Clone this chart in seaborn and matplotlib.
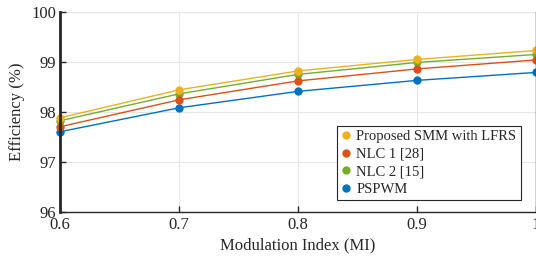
import pandas as pd
import matplotlib.pyplot as plt
import seaborn as sns
from matplotlib.lines import Line2D

mi = [0.6, 0.7, 0.8, 0.9, 1.0]
proposed = [97.88, 98.44, 98.82, 99.05, 99.23]
nlc1 = [97.70, 98.24, 98.62, 98.86, 99.04]
nlc2 = [97.82, 98.36, 98.75, 98.99, 99.15]
pspwm = [97.60, 98.08, 98.41, 98.63, 98.79]

names = ['Proposed SMM with LFRS', 'NLC 1 [28]', 'NLC 2 [15]', 'PSPWM']
colors = ['#EDB120', '#D95319', '#77AC30', '#0072BD']

df = pd.DataFrame({'MI': mi * 4,
                   'Eff': proposed + nlc1 + nlc2 + pspwm,
                   'Method': sum([[n] * len(mi) for n in names], [])})

sns.set_style('whitegrid')
plt.rcParams['font.family'] = ['Liberation Serif', 'DejaVu Serif']

fig = plt.figure(figsize=(5.36, 2.57), dpi=100)
ax = fig.add_axes([0.112, 0.177, 0.888, 0.776])

# draw in back-to-front order like the reference
for name, col in zip(names[::-1], colors[::-1]):
    sns.lineplot(data=df[df['Method'] == name], x='MI', y='Eff', color=col,
                 marker='o', markersize=6, markeredgewidth=0, linewidth=1,
                 ax=ax, legend=False, clip_on=False)

ax.set_xlim(0.6, 1.0)
ax.set_ylim(96, 100)
ax.set_xticks([0.6, 0.7, 0.8, 0.9, 1.0])
ax.set_xticklabels(['0.6', '0.7', '0.8', '0.9', '1'])
ax.set_yticks([96, 97, 98, 99, 100])
ax.grid(True, color='#e6e6e6', linewidth=0.8)
ax.set_axisbelow(True)

ax.spines['top'].set_visible(False)
ax.spines['right'].set_color('#262626')
ax.spines['right'].set_linewidth(1)
ax.spines['left'].set_color('#262626')
ax.spines['left'].set_linewidth(2)
ax.spines['bottom'].set_color('#262626')
ax.spines['bottom'].set_linewidth(1)
ax.tick_params(direction='in', length=4, width=1, colors='#262626',
               labelsize=12, left=True, bottom=True)
ax.tick_params(axis='x', pad=4)
ax.tick_params(axis='y', pad=3)

ax.set_xlabel('Modulation Index (MI)', fontsize=12, color='#262626', labelpad=3)
ax.set_ylabel('Efficiency (%)', fontsize=12, color='#262626')

handles = [Line2D([], [], linestyle='none', marker='o', markersize=6,
                  markeredgewidth=0, color=c) for c in colors]
leg = ax.legend(handles, names, loc='lower right', bbox_to_anchor=(0.983, 0.02),
                fontsize=10.5, frameon=True, fancybox=False, handlelength=0.6,
                handletextpad=0.4, borderpad=0.3, labelspacing=0.3)
leg.get_frame().set_edgecolor('#262626')
leg.get_frame().set_linewidth(0.8)
leg.get_frame().set_alpha(1)

fig.savefig('out.png', dpi=100)
